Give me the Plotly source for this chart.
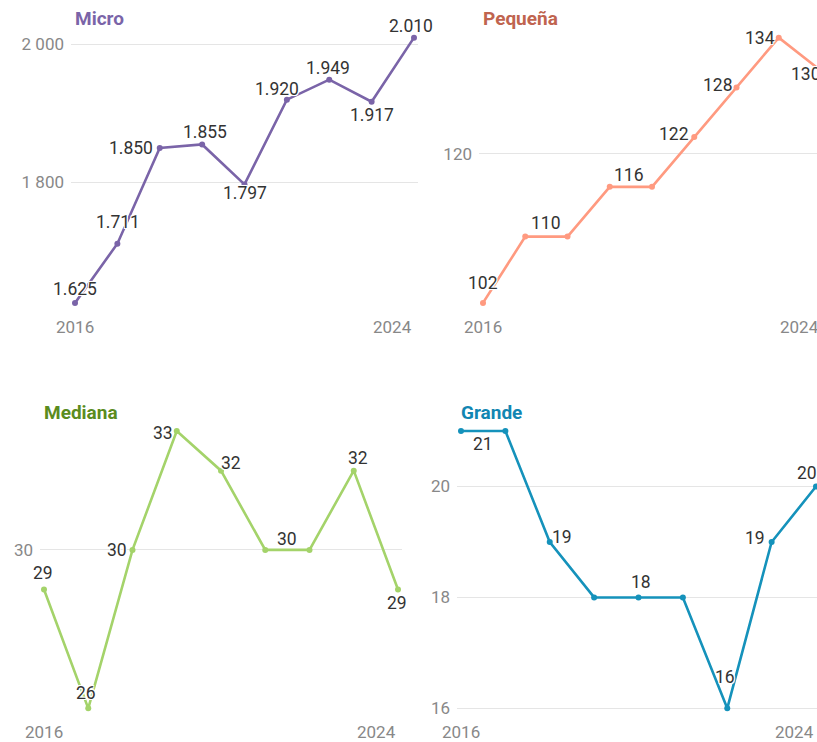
import plotly.graph_objects as go

years = [2016, 2017, 2018, 2019, 2020, 2021, 2022, 2023, 2024]
micro = [1625, 1711, 1850, 1855, 1797, 1920, 1949, 1917, 2010]
pequena = [102, 110, 110, 116, 116, 122, 128, 134, 130]
mediana = [29, 26, 30, 33, 32, 30, 30, 32, 29]
grande = [21, 21, 19, 18, 18, 18, 16, 19, 20]

titles = ["Micro", "Pequeña", "Mediana", "Grande"]
x_tick_labels = ["2016", "2024"]
y_ticks = {
    "Micro": [1800, 2000],
    "Pequeña": [120],
    "Mediana": [30],
    "Grande": [16, 18, 20],
}

# ---- styling (positions / colours) ----
W, H = 825, 755
SY, OY = 0.991, -0.6  # vertical calibration of the photographed page
PAD = 4  # px of breathing room so lines are not clipped at the plot edges


def py(y):
    return (y - OY) / SY


line_colors = ["#7a64a8", "#ff9a80", "#a4d36a", "#1592bb"]
title_colors = ["#7a64a8", "#c0644f", "#5b8c1e", "#1286b2"]
# pixel boxes of the data extent in the target picture: (x_left, x_right, y_top, y_bottom)
boxes = [(75, 414, 37, 302), (483, 821, 37, 302), (44, 398, 430, 707), (461, 816, 430, 707)]
# label offsets (dx, dy) in pixels from the point/run centre to the text centre
label_offsets = [
    [(0, -14), (1, -21), (-29, 0), (3, -12), (0, 9), (-10, -11), (-1, -12), (0, 13), (-3, -12)],
    [(0, -20), (0, -13), (-2, -12), (-20, -3), (-19, -2), (-19, 0), (-15, 3)],
    [(-1, -16), (-2, -15), (-16, 0), (-14, 2), (10, -8), (0, -11), (4, -13), (-1, 13)],
    [(0, 13), (12, -5), (2, -15), (-2, -31), (-17, -4), (-9, -13)],
]
FONT = "Roboto"
label_size = 17.5
tick_size = 17
title_size = 19
halo = "-1px -1px 0 #fff, 1px -1px 0 #fff, -1px 1px 0 #fff, 1px 1px 0 #fff, 0 0 2px #fff"


def fmt_label(v):
    return f"{v:,}".replace(",", ".")


def fmt_tick(v):
    return f"{v:,}".replace(",", " ")


def runs(values):
    """Group equal consecutive values; return (centre x, value) per run."""
    out = []
    i = 0
    while i < len(values):
        j = i
        while j + 1 < len(values) and values[j + 1] == values[i]:
            j += 1
        out.append(((years[i] + years[j]) / 2, values[i]))
        i = j + 1
    return out


series = [micro, pequena, mediana, grande]
fig = go.Figure()
annotations = []
layout_axes = {}

for k, (name, vals) in enumerate(zip(titles, series)):
    n = k + 1
    xa = "x" if n == 1 else f"x{n}"
    ya = "y" if n == 1 else f"y{n}"
    xl, xr, yt, yb = boxes[k]
    ux = (years[-1] - years[0]) / (xr - xl)
    xl_p, xr_p = xl - PAD, min(xr + PAD, W)
    xrange = [years[0] - (xl - xl_p) * ux, years[-1] + (xr_p - xr) * ux]
    uy = (max(vals) - min(vals)) / (py(yb) - py(yt))
    yt_p, yb_p = py(yt) - PAD, py(yb) + PAD
    yrange = [min(vals) - PAD * uy, max(vals) + PAD * uy]

    fig.add_trace(go.Scatter(
        x=years, y=vals, xaxis=xa, yaxis=ya, mode="lines+markers",
        line=dict(color=line_colors[k], width=2.6),
        marker=dict(color=line_colors[k], size=6),
        cliponaxis=False, hoverinfo="skip",
    ))
    tv = y_ticks[name]
    layout_axes["xaxis" if n == 1 else f"xaxis{n}"] = dict(
        domain=[xl_p / W, xr_p / W], range=xrange, anchor=ya,
        showgrid=False, zeroline=False, showline=False, showticklabels=False, ticks="",
    )
    layout_axes["yaxis" if n == 1 else f"yaxis{n}"] = dict(
        domain=[1 - yb_p / H, 1 - yt_p / H], range=yrange, anchor=xa,
        tickvals=tv, ticktext=[fmt_tick(v) for v in tv],
        showgrid=True, gridcolor="#e5e5e5", gridwidth=1.3,
        zeroline=False, showline=False, ticks="", ticklabelstandoff=6,
        tickfont=dict(family=FONT, size=tick_size, color="#888888"),
    )
    # title
    annotations.append(dict(
        text=f"<b>{name}</b>", xref="paper", yref="paper",
        x=(xl - 2) / W, y=1 - py(yt - 19) / H, xanchor="left", yanchor="middle",
        showarrow=False, font=dict(family=FONT, size=title_size, color=title_colors[k]),
    ))
    # x tick labels
    for lab, yr, anc in zip(x_tick_labels, [years[0], years[-1]], ["center", "right"]):
        annotations.append(dict(
            text=lab, xref=xa, yref="paper", x=yr, y=1 - py(yb + 24) / H,
            xanchor=anc, yanchor="middle", showarrow=False,
            font=dict(family=FONT, size=tick_size, color="#888888"),
        ))
    # data labels
    for (cx, v), (dx, dy) in zip(runs(vals), label_offsets[k]):
        annotations.append(dict(
            text=fmt_label(v), xref=xa, yref=ya, x=cx, y=v,
            xanchor="center", yanchor="middle", xshift=dx, yshift=-dy / SY,
            showarrow=False,
            font=dict(family=FONT, size=label_size, color="#333333", shadow=halo),
        ))

fig.update_layout(
    width=W, height=H, margin=dict(l=0, r=0, t=0, b=0),
    paper_bgcolor="white", plot_bgcolor="white", showlegend=False,
    annotations=annotations, **layout_axes,
)
fig.write_html(
    "out.html",
    config={"displayModeBar": False},
    post_script=(
        "document.body.style.margin='0';"
        "document.body.style.overflow='hidden';"
        "document.documentElement.style.overflow='hidden';"
    ),
)
